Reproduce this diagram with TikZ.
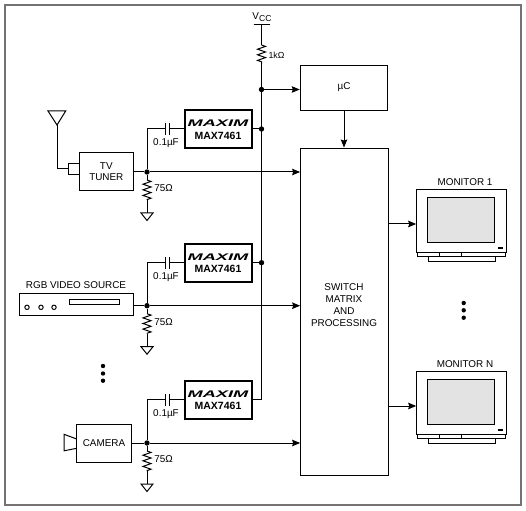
\documentclass[tikz,border=0pt]{standalone}
\usepackage{fontspec}
\setmainfont{Liberation Sans}
\usepackage{graphicx}
\usetikzlibrary{arrows.meta,decorations.pathmorphing}

\newcommand{\maximlogo}{\scalebox{1.9}[1]{\fontsize{9.6}{10}\selectfont\bfseries\itshape MAXIM}}

\tikzset{
  wire/.style={line width=1pt,black},
  sig/.style={wire,-{Stealth[length=8pt,width=6.5pt,inset=1pt]}},
  box/.style={draw,line width=1pt,inner sep=0pt,align=center},
  chip/.style={box,line width=2pt,minimum width=67pt,minimum height=38pt},
  lbl/.style={inner sep=0pt,align=center},
  jdot/.style={circle,fill=black,inner sep=0pt,minimum size=5.4pt},
  resistor/.style={decorate,decoration={zigzag,amplitude=4pt,segment length=5.6pt}}
}

\begin{document}
\begin{tikzpicture}[x=1pt,y=-1pt,font=\fontsize{9.9}{12}\selectfont]
  \useasboundingbox (0,0) rectangle (526,510);
  \draw[line width=2pt,black!55] (5,5) rectangle (520.5,505);

  % supply rail
  \node[lbl] (vcc) at (262,17) {V\raisebox{-1.5pt}{\fontsize{8.6}{8}\selectfont CC}};
  \coordinate (bar) at (261.5,25);
  \coordinate (rtop) at (261.5,45);
  \coordinate (rbot) at (261.5,64);
  \coordinate (railend) at (261.5,399.7);
  \draw[wire] ([xshift=-8pt]bar) -- ([xshift=8pt]bar);
  \draw[wire] (bar) -- (rtop);
  \draw[wire,resistor] (rtop) -- (rbot);
  \node[lbl,font=\fontsize{8.8}{9}\selectfont] (r1k) at (276.5,55) {1kΩ};

  % controller and switch
  \node[box,minimum width=87.5pt,minimum height=45pt] (uc) at (344,88.5) {};
  \node[lbl] (uctext) at (344,87) {µC};
  \node[box,minimum width=87.5pt,minimum height=327.7pt] (sw) at (344.4,311.9) {};
  \node[lbl] (swtext) at (344,304.7) {SWITCH\\MATRIX\\AND\\PROCESSING};
  \node[jdot] (jc) at (261.5,89.5) {};
  \draw[wire] (rbot) -- (railend);
  \draw[sig] (jc) -- (jc -| uc.west);
  \draw[sig] (uc.south) -- (uc.south |- sw.north);

  % sources
  \node[box,minimum width=54.5pt,minimum height=38pt] (tuner) at (106.3,172) {TV\\[-1pt]TUNER};
  \node[box,minimum width=114.5pt,minimum height=22pt] (rgb) at (76.5,304.5) {};
  \node[box,minimum width=54.5pt,minimum height=38pt] (camera) at (104,443) {CAMERA};
  \node[lbl] (rgbtext) at (76,285) {RGB VIDEO SOURCE};

  % the three input rows
  \foreach \i/\ys/\yc/\src in {1/172/129/tuner,2/305.7/262.7/rgb,3/443/399.7/camera}{
    \node[chip] (max\i) at (218,\yc) {};
    \node[lbl] (logo\i) at (218,123.5+\yc-129) {\maximlogo};
    \node[lbl,font=\fontsize{10.5}{11}\selectfont\bfseries] (name\i) at (218,135.6+\yc-129) {MAX7461};
    \node[lbl] (clab\i) at (166,\yc+14) {0.1µF};
    \node[lbl] (rlab\i) at (163.5,\ys+16.5) {75Ω};
    \node[jdot] (js\i) at (147,\ys) {};
    \coordinate (capl\i) at (165.5,\yc);
    \coordinate (capr\i) at (169.8,\yc);
    \coordinate (rt\i) at (147,\ys+8);
    \coordinate (rb\i) at (147,\ys+28);
    \coordinate (gnd\i) at (147,\ys+41);
    \draw[wire] (\src.east |- js\i) -- (js\i);
    \draw[sig] (js\i) -- (js\i -| sw.west);
    \draw[wire] (js\i) -- (js\i |- capl\i) -- (capl\i);
    \draw[wire] (capr\i) -- (max\i.west);
    \draw[wire] ([yshift=-6pt]capl\i) -- ([yshift=6pt]capl\i);
    \draw[wire] ([yshift=-6pt]capr\i) -- ([yshift=6pt]capr\i);
    \draw[wire] (js\i) -- (rt\i);
    \draw[wire,resistor] (rt\i) -- (rb\i);
    \draw[wire] (rb\i) -- (gnd\i);
    \draw[wire] ([xshift=-6pt]gnd\i) -- ++(12,0) -- ++(-6,7.5) -- cycle;
  }
  \node[jdot] (j1) at (261.5,129) {};
  \node[jdot] (j2) at (261.5,262.7) {};
  \draw[wire] (max1.east) -- (j1);
  \draw[wire] (max2.east) -- (j2);
  \draw[wire] (max3.east) -- (railend);

  % antenna and tuner stub
  \node[box,minimum width=11pt,minimum height=11pt] (stub) at (73.5,168.7) {};
  \coordinate (ant) at (57,125);
  \draw[wire] (48,111) -- (65.7,111) -- (ant) -- cycle;
  \draw[wire] (ant) |- (stub.west);

  % rgb front panel
  \draw[wire] (69,299.3) rectangle (119.3,304.3);
  \foreach \x in {27,41,54} \draw[wire] (\x,307.3) circle (2.2);

  % camera lens
  \draw[wire] (76.7,439) -- (64,434.3) -- (64,450.8) -- (76.7,448.3);

  % monitors
  \foreach \n/\dy/\name in {1/0/MONITOR 1,2/182/MONITOR N}{
    \node[box,minimum width=90pt,minimum height=63.5pt] (mon\n) at (461.7,221+\dy) {};
    \node[lbl] (monlab\n) at (465,182+\dy) {\name};
    \node[box,fill=black!11,minimum width=67.3pt,minimum height=45.3pt] (scr\n) at (461.3,219.7+\dy) {};
    \coordinate (out\n) at (sw.east |- 0,224+\dy);
    \draw[sig] (out\n) -- (out\n -| mon\n.west);
    \draw[wire] (417.7,252.8+\dy) -- (417.7,256+\dy) -- (505.7,256+\dy) -- (505.7,252.8+\dy);
    \draw[wire,line width=.8pt] (439.3,253+\dy) -- (439.3,256+\dy) (461.7,253+\dy) -- (461.7,256+\dy);
    \draw[wire] (428,256+\dy) -- (428,261.5+\dy) -- (495.7,261.5+\dy) -- (495.7,256+\dy);
    \fill (497.7,247+\dy) rectangle (502.7,249+\dy);
  }

  % ellipsis dots
  \foreach \x/\y in {103/366,103/373.5,103/380.7,463.7/303,463.7/310.3,463.7/317.7}
    \fill (\x,\y) circle (2.2);
\end{tikzpicture}
\end{document}
